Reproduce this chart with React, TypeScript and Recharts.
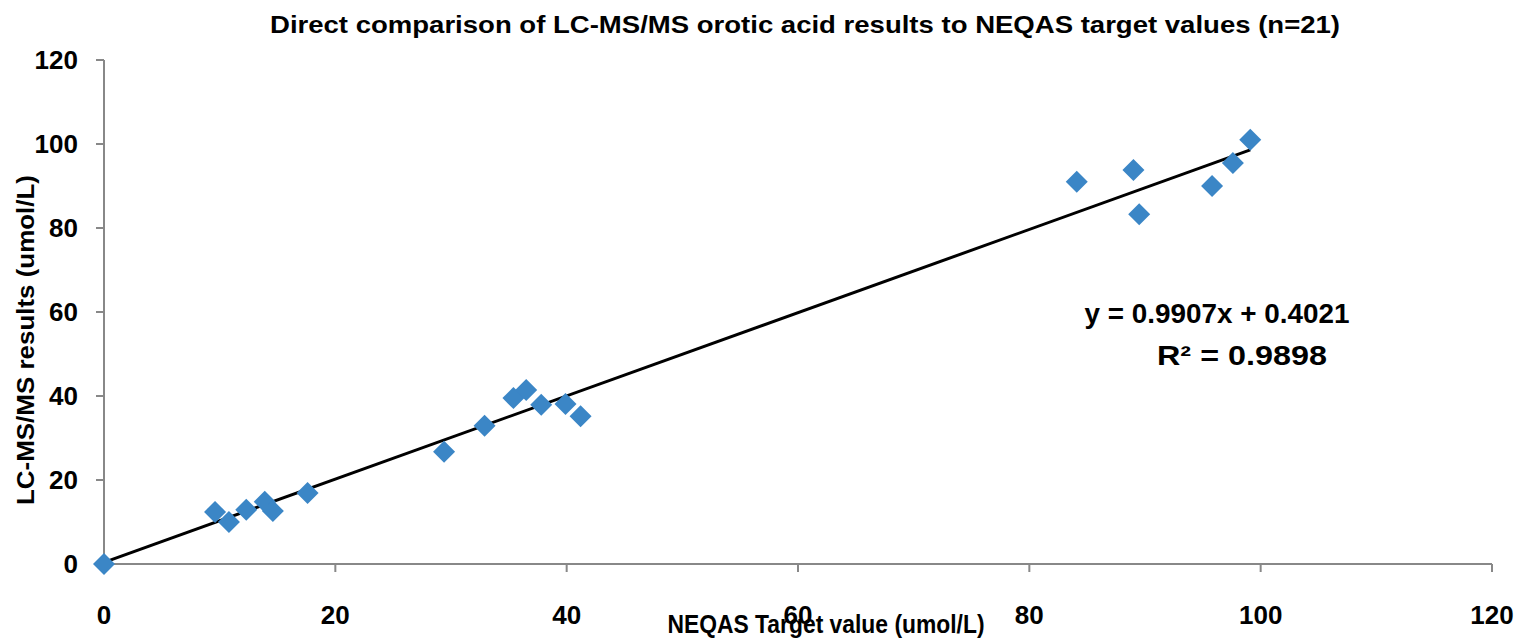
import React from 'react';
import { ScatterChart, Scatter, XAxis, YAxis, ReferenceLine, Customized } from 'recharts';

// NEQAS target values (x) and LC-MS/MS results (y), umol/L
const targetValues = [0, 9.6, 10.8, 12.3, 13.9, 14.6, 17.6, 29.4, 32.9, 35.4, 36.5, 37.8, 39.9, 41.2, 84.1, 89.0, 89.5, 95.8, 97.6, 99.1];
const lcmsResults = [0, 12.4, 10.0, 12.9, 14.8, 12.6, 16.9, 26.7, 32.9, 39.5, 41.4, 37.9, 38.1, 35.2, 91.0, 93.8, 83.3, 90.0, 95.5, 101.0];
const axisTicks = [0, 20, 40, 60, 80, 100, 120];

const slope = 0.9907;
const intercept = 0.4021;
const rSquared = 0.9898;

const points = targetValues.map((x, i) => ({ x, y: lcmsResults[i] }));
const fitStart = Math.min(...targetValues);
const fitEnd = Math.max(...targetValues);

const FONT = "'Liberation Sans', Arial, sans-serif";
const AXIS_COLOR = '#888888';
const MARKER_COLOR = '#3b86c6';

const Diamond = (props: any) => {
  const { cx, cy } = props;
  const r = 11;
  return (
    <polygon
      points={`${cx},${cy - r} ${cx + r},${cy} ${cx},${cy + r} ${cx - r},${cy}`}
      fill={MARKER_COLOR}
    />
  );
};

const Labels = () => (
  <g fontFamily={FONT} fontWeight="bold" fill="#000">
    <text x={805} y={33} fontSize={24} textAnchor="middle" textLength={1070} lengthAdjust="spacingAndGlyphs">
      Direct comparison of LC-MS/MS orotic acid results to NEQAS target values (n=21)
    </text>
    <text x={826} y={633} fontSize={26} textAnchor="middle" textLength={317} lengthAdjust="spacingAndGlyphs">
      NEQAS Target value (umol/L)
    </text>
    <text
      x={0}
      y={0}
      fontSize={24}
      textAnchor="middle"
      textLength={330}
      lengthAdjust="spacingAndGlyphs"
      transform="translate(34,340) rotate(-90)"
    >
      LC-MS/MS results (umol/L)
    </text>
    <text x={1217} y={323} fontSize={28} textAnchor="middle" textLength={265} lengthAdjust="spacingAndGlyphs">
      {`y = ${slope}x + ${intercept}`}
    </text>
    <text x={1242} y={365} fontSize={28} textAnchor="middle" textLength={170} lengthAdjust="spacingAndGlyphs">
      {`R² = ${rSquared}`}
    </text>
  </g>
);

const tickStyle = { fontFamily: FONT, fontWeight: 'bold', fontSize: 26, fill: '#000' };

export default function App() {
  return (
    <div style={{ position: 'absolute', left: 0, top: 0, background: '#fff' }}>
      <ScatterChart width={1524} height={644} margin={{ top: 60, right: 32, left: 0, bottom: 0 }}>
        <XAxis
          type="number"
          dataKey="x"
          domain={[0, 120]}
          ticks={axisTicks}
          height={80}
          tickSize={8}
          tickMargin={34}
          tick={tickStyle}
          axisLine={{ stroke: AXIS_COLOR, strokeWidth: 2 }}
          tickLine={{ stroke: AXIS_COLOR, strokeWidth: 2 }}
        />
        <YAxis
          type="number"
          dataKey="y"
          domain={[0, 120]}
          ticks={axisTicks}
          width={104}
          tickSize={8}
          tickMargin={18}
          tick={tickStyle}
          axisLine={{ stroke: AXIS_COLOR, strokeWidth: 2 }}
          tickLine={{ stroke: AXIS_COLOR, strokeWidth: 2 }}
        />
        <Scatter data={points} shape={<Diamond />} isAnimationActive={false} />
        <ReferenceLine
          segment={[
            { x: fitStart, y: slope * fitStart + intercept },
            { x: fitEnd, y: slope * fitEnd + intercept },
          ]}
          stroke="#000"
          strokeWidth={3}
          ifOverflow="visible"
        />
        <Customized component={Labels} />
      </ScatterChart>
    </div>
  );
}
